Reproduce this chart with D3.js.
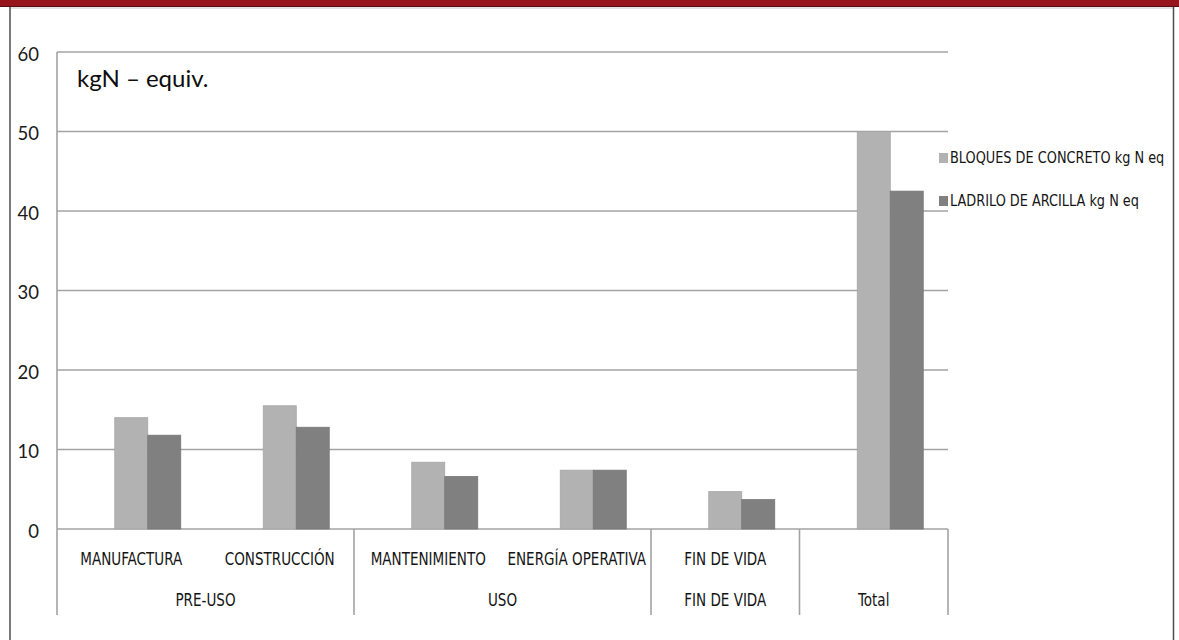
<!DOCTYPE html>
<html>
<head>
<meta charset="utf-8">
<script src="https://cdn.jsdelivr.net/npm/d3@7"></script>
<style>
  html, body { margin: 0; padding: 0; background: #ffffff; }
  svg { display: block; }
  .tick-label { font-family: Lato, "Liberation Sans", sans-serif; font-size: 18.5px; fill: #1a1a1a; }
  .unit { font-family: Lato, "Liberation Sans", sans-serif; font-size: 24px; fill: #0d0d0d; }
  .narrow { font-family: "DejaVu Sans", sans-serif; font-stretch: condensed; fill: #141414; }
</style>
</head>
<body>
<svg id="chart" width="1179" height="640"></svg>
<script>
// Life-cycle stages and their detail categories (two-level axis)
const categories   = ["MANUFACTURA", "CONSTRUCCIÓN", "MANTENIMIENTO", "ENERGÍA OPERATIVA", "FIN DE VIDA", "Total"];
const detailLabels = ["MANUFACTURA", "CONSTRUCCIÓN", "MANTENIMIENTO", "ENERGÍA OPERATIVA", "FIN DE VIDA", ""];
const stageLabels  = ["PRE-USO", "PRE-USO", "USO", "USO", "FIN DE VIDA", "Total"];

// Series (kg N eq)
const seriesNames = ["BLOQUES DE CONCRETO kg N eq", "LADRILO DE ARCILLA kg N eq"];
const concreto = [14.0, 15.5, 8.4, 7.4, 4.7, 50.0];
const ladrillo = [11.8, 12.8, 6.6, 7.4, 3.7, 42.5];
const seriesValues = [concreto, ladrillo];
const seriesColors = ["#b2b2b2", "#808080"];

// Y axis ticks
const yTicks = [0, 10, 20, 30, 40, 50, 60];
const unitLabel = "kgN – equiv.";

const W = 1179, H = 640;
const svg = d3.select("#chart");

// frame: dark red band on top, thin grey borders
svg.append("rect").attr("x", 0).attr("y", 0).attr("width", W).attr("height", 7).attr("fill", "#96141c");
svg.append("line").attr("x1", 0).attr("x2", W).attr("y1", 6.5).attr("y2", 6.5).attr("stroke", "#5a0c10").attr("stroke-width", 1);
svg.append("line").attr("x1", 10).attr("x2", 1174).attr("y1", 8).attr("y2", 8).attr("stroke", "#c8c8c8").attr("stroke-width", 1);
svg.append("line").attr("x1", 10).attr("x2", 10).attr("y1", 7).attr("y2", H).attr("stroke", "#7a7a7a").attr("stroke-width", 2);
svg.append("line").attr("x1", 1173.5).attr("x2", 1173.5).attr("y1", 7).attr("y2", H).attr("stroke", "#4d4d4d").attr("stroke-width", 1.5);

const plot = { left: 57, right: 948, top: 52, bottom: 529, axisBottom: 615 };

const y = d3.scaleLinear().domain([0, 60]).range([plot.bottom, plot.top]);
const x0 = d3.scaleBand().domain(categories).range([plot.left, plot.right]).paddingInner(0).paddingOuter(0);
// three slots per category; the first one stays empty and the bars fill the last two
const seriesSlots = ["", ...seriesNames];
const x1 = d3.scaleBand().domain(seriesSlots).range([0, x0.bandwidth()]).paddingInner(0).paddingOuter(0.75);

// horizontal gridlines
svg.append("g").selectAll("line").data(yTicks).join("line")
  .attr("x1", plot.left).attr("x2", plot.right)
  .attr("y1", d => y(d)).attr("y2", d => y(d))
  .attr("stroke", "#a3a3a3").attr("stroke-width", 1.6);

// y tick labels
svg.append("g").selectAll("text").data(yTicks).join("text")
  .attr("class", "tick-label")
  .attr("x", 39).attr("y", d => y(d) + 4)
  .attr("text-anchor", "end").attr("dominant-baseline", "middle")
  .text(d => d);

// unit note inside plot
svg.append("text").attr("class", "unit").attr("x", 77).attr("y", 87).text(unitLabel);

// bars
const barG = svg.append("g");
seriesNames.forEach((name, si) => {
  barG.append("g").selectAll("rect").data(categories).join("rect")
    .attr("x", c => x0(c) + x1(name))
    .attr("width", x1.bandwidth())
    .attr("y", (c, i) => y(seriesValues[si][i]))
    .attr("height", (c, i) => y(0) - y(seriesValues[si][i]))
    .attr("fill", seriesColors[si])
    .attr("stroke", si === 0 ? "#a5a5a5" : "#777777")
    .attr("stroke-width", 0.8);
});

// vertical value axis line
svg.append("line").attr("x1", plot.left).attr("x2", plot.left)
  .attr("y1", plot.top).attr("y2", plot.axisBottom)
  .attr("stroke", "#a3a3a3").attr("stroke-width", 1.6);

// stage group boundaries on the category axis
const stageBounds = [];
stageLabels.forEach((s, i) => {
  if (i === stageLabels.length - 1 || stageLabels[i + 1] !== s) stageBounds.push(x0(categories[i]) + x0.bandwidth());
});
svg.append("g").selectAll("line").data(stageBounds).join("line")
  .attr("x1", d => d).attr("x2", d => d)
  .attr("y1", plot.bottom).attr("y2", plot.axisBottom)
  .attr("stroke", "#a3a3a3").attr("stroke-width", 1.6);

// narrow, slightly tall label text
function narrowText(sel, size, sx) {
  return sel.attr("class", "narrow").style("font-size", size + "px")
    .attr("dominant-baseline", "middle")
    .attr("transform", function () {
      const tx = +this.getAttribute("data-x"), ty = +this.getAttribute("data-y");
      return `translate(${tx},${ty}) scale(${sx},1.08)`;
    });
}

// detail labels (first row)
svg.append("g").selectAll("text").data(categories).join("text")
  .attr("data-x", c => x0(c) + x0.bandwidth() / 2)
  .attr("data-y", 560)
  .attr("text-anchor", "middle")
  .text((c, i) => detailLabels[i])
  .call(narrowText, 16, 0.94);

// stage labels (second row), centred over their span
const stages = [];
stageLabels.forEach((s, i) => {
  const last = stages[stages.length - 1];
  if (last && last.name === s) last.end = i; else stages.push({ name: s, start: i, end: i });
});
svg.append("g").selectAll("text").data(stages).join("text")
  .attr("data-x", s => (x0(categories[s.start]) + x0(categories[s.end]) + x0.bandwidth()) / 2)
  .attr("data-y", 601)
  .attr("text-anchor", "middle")
  .text(s => s.name)
  .call(narrowText, 16, 0.94);

// legend
const legend = svg.append("g");
seriesNames.forEach((name, i) => {
  const cy = 158 + i * 43;
  legend.append("rect").attr("x", 939).attr("y", cy - 5).attr("width", 9).attr("height", 10).attr("fill", seriesColors[i]);
  legend.append("text")
    .attr("data-x", 950).attr("data-y", cy)
    .text(name)
    .call(narrowText, 15, 0.955);
});
</script>
</body>
</html>
